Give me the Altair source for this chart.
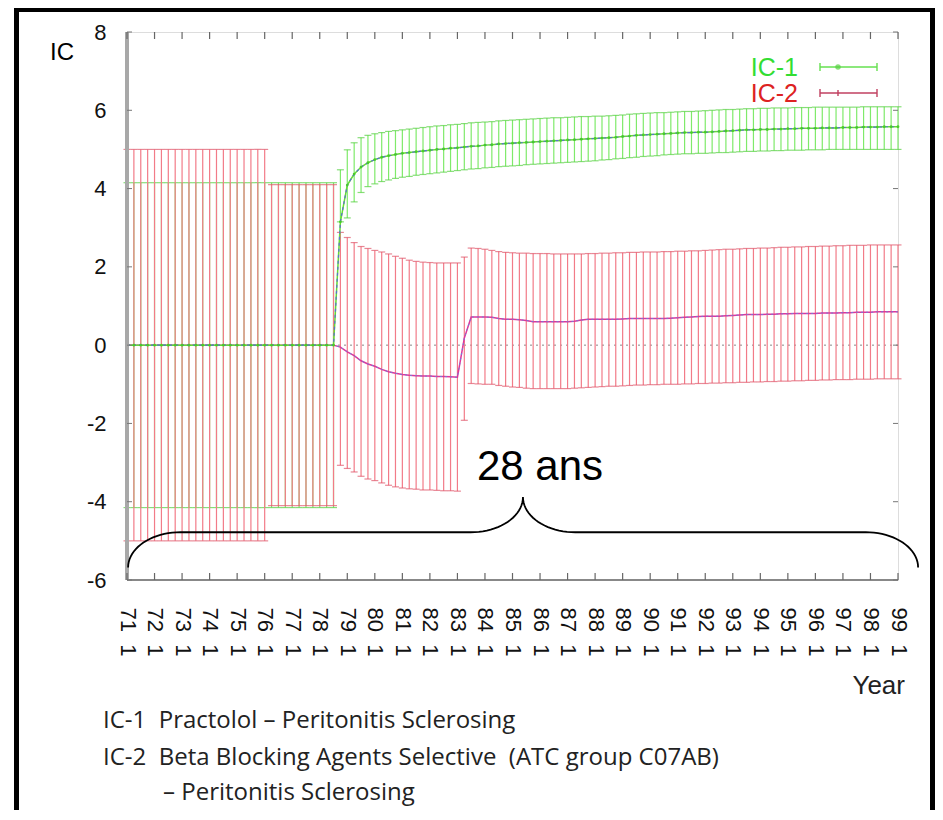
import altair as alt
import pandas as pd
import math

# ---------------- data ----------------
YEARS = list(range(71, 100))          # x tick years (labels "71 1" ... "99 1")
Y_TICKS = [-6, -4, -2, 0, 2, 4, 6, 8]

# quarterly points 71Q1 .. 99Q1 (113 points)
IC1_MID = [0.0] * 31 + [
    3.15, 4.09, 4.37, 4.55, 4.66, 4.74, 4.8, 4.84, 4.87, 4.9,
    4.92, 4.94, 4.96, 4.98, 5.0, 5.01, 5.03, 5.04, 5.06, 5.08,
    5.09, 5.11, 5.12, 5.14, 5.15, 5.16, 5.17, 5.18, 5.19, 5.2,
    5.21, 5.22, 5.23, 5.24, 5.25, 5.26, 5.27, 5.28, 5.29, 5.3,
    5.31, 5.33, 5.34, 5.36, 5.37, 5.38, 5.39, 5.4, 5.41, 5.42,
    5.43, 5.43, 5.44, 5.44, 5.45, 5.46, 5.47, 5.48, 5.49, 5.5,
    5.5, 5.51, 5.51, 5.52, 5.52, 5.53, 5.53, 5.54, 5.54, 5.54,
    5.55, 5.55, 5.55, 5.56, 5.56, 5.56, 5.57, 5.57, 5.57, 5.58,
    5.58, 5.58]
IC1_LO = [-4.15] * 31 + [
    3.15, 3.25, 3.66, 3.9, 4.05, 4.12, 4.18, 4.22, 4.26, 4.29,
    4.31, 4.34, 4.36, 4.38, 4.4, 4.42, 4.44, 4.46, 4.48, 4.5,
    4.51, 4.53, 4.54, 4.56, 4.57, 4.58, 4.59, 4.61, 4.62, 4.63,
    4.64, 4.65, 4.66, 4.67, 4.68, 4.69, 4.7, 4.71, 4.73, 4.74,
    4.76, 4.77, 4.79, 4.8, 4.82, 4.83, 4.84, 4.86, 4.87, 4.88,
    4.89, 4.89, 4.9, 4.9, 4.91, 4.92, 4.92, 4.93, 4.94, 4.95,
    4.95, 4.96, 4.96, 4.97, 4.97, 4.98, 4.98, 4.98, 4.99, 4.99,
    4.99, 5.0, 5.0, 5.0, 5.0, 5.0, 5.0, 5.0, 5.0, 5.0,
    5.0, 5.0]
IC1_HI = [4.15] * 31 + [
    4.48, 4.99, 5.17, 5.3, 5.36, 5.4, 5.43, 5.46, 5.48, 5.5,
    5.52, 5.54, 5.56, 5.58, 5.6, 5.61, 5.63, 5.64, 5.66, 5.68,
    5.69, 5.7, 5.71, 5.73, 5.74, 5.75, 5.76, 5.77, 5.78, 5.79,
    5.8, 5.81, 5.81, 5.82, 5.83, 5.84, 5.84, 5.85, 5.85, 5.86,
    5.87, 5.88, 5.9, 5.91, 5.92, 5.93, 5.94, 5.94, 5.95, 5.96,
    5.97, 5.97, 5.98, 5.99, 6.0, 6.01, 6.02, 6.02, 6.03, 6.04,
    6.04, 6.05, 6.05, 6.06, 6.06, 6.06, 6.07, 6.07, 6.07, 6.08,
    6.08, 6.08, 6.08, 6.08, 6.08, 6.08, 6.09, 6.09, 6.09, 6.09,
    6.09, 6.09]

IC2_MID = [0.0] * 31 + [
    -0.05, -0.17, -0.27, -0.4, -0.48, -0.54, -0.62, -0.68, -0.72, -0.75,
    -0.77, -0.78, -0.79, -0.79, -0.8, -0.8, -0.81, -0.82] + [0.18] + [
    0.72, 0.72, 0.72, 0.71, 0.68, 0.66, 0.66, 0.65, 0.63, 0.6,
    0.6, 0.6, 0.6, 0.6, 0.6, 0.61, 0.64, 0.66, 0.66, 0.66,
    0.66, 0.66, 0.67, 0.68, 0.68, 0.68, 0.68, 0.68, 0.68, 0.69,
    0.7, 0.71, 0.72, 0.73, 0.74, 0.74, 0.74, 0.75, 0.76, 0.77,
    0.78, 0.78, 0.78, 0.79, 0.79, 0.8, 0.8, 0.81, 0.81, 0.81,
    0.81, 0.82, 0.82, 0.82, 0.83, 0.83, 0.84, 0.84, 0.84, 0.85,
    0.85, 0.85, 0.85]
IC2_LO = [-5.0] * 21 + [-4.1] * 10 + [
    -3.07, -3.15, -3.24, -3.35, -3.42, -3.46, -3.52, -3.58, -3.62, -3.65,
    -3.67, -3.68, -3.7, -3.7, -3.71, -3.72, -3.72, -3.73] + [-1.92] + [
    -0.98, -0.99, -1.0, -1.0, -1.03, -1.05, -1.07, -1.08, -1.1, -1.11,
    -1.11, -1.11, -1.11, -1.11, -1.11, -1.1, -1.09, -1.08, -1.07, -1.06,
    -1.05, -1.05, -1.04, -1.03, -1.02, -1.02, -1.01, -1.01, -1.0, -1.0,
    -1.0, -0.99, -0.99, -0.98, -0.98, -0.97, -0.97, -0.96, -0.96, -0.95,
    -0.95, -0.94, -0.94, -0.93, -0.93, -0.92, -0.92, -0.91, -0.91, -0.9,
    -0.9, -0.89, -0.89, -0.88, -0.88, -0.88, -0.87, -0.87, -0.87, -0.86,
    -0.86, -0.86, -0.86]
IC2_HI = [5.0] * 21 + [4.1] * 10 + [
    2.88, 2.75, 2.62, 2.52, 2.47, 2.42, 2.38, 2.33, 2.27, 2.22,
    2.17, 2.14, 2.12, 2.11, 2.1, 2.1, 2.1, 2.1] + [2.25] + [
    2.48, 2.47, 2.45, 2.42, 2.39, 2.37, 2.36, 2.35, 2.35, 2.34,
    2.34, 2.34, 2.33, 2.33, 2.33, 2.33, 2.33, 2.34, 2.34, 2.35,
    2.35, 2.36, 2.36, 2.37, 2.37, 2.38, 2.38, 2.38, 2.39, 2.39,
    2.4, 2.4, 2.41, 2.41, 2.42, 2.43, 2.44, 2.45, 2.45, 2.46,
    2.47, 2.47, 2.48, 2.48, 2.49, 2.5, 2.5, 2.51, 2.51, 2.52,
    2.52, 2.53, 2.53, 2.54, 2.54, 2.55, 2.55, 2.55, 2.56, 2.56,
    2.56, 2.56, 2.56]

NB = "\u00a0"
FOOTER = ["IC-1" + NB * 2 + "Practolol \u2013 Peritonitis Sclerosing",
          "IC-2" + NB * 2 + "Beta Blocking Agents Selective" + NB * 2 + "(ATC group C07AB)",
          "\u2013 Peritonitis Sclerosing"]

# brace annotation anchors (data units)
BR_X = [71.04, 85.38, 99.73]      # left end, tip, right end
BR_Y = [-5.68, -4.78, -3.88]      # ends, flat part, tip
BR_RX, BR_RY = 1.9, 0.9

# ---------------- build tables ----------------
n = len(IC1_MID)
xq = [71 + i / 4 for i in range(n)]
df = pd.DataFrame({"x": xq, "m1": IC1_MID, "lo1": IC1_LO, "hi1": IC1_HI,
                   "m2": IC2_MID, "lo2": IC2_LO, "hi2": IC2_HI})

def arc(cx, cy, fx, fy):
    return [(cx + fx(t), cy + fy(t)) for t in [k * math.pi / 40 for k in range(21)]]

pts = []
pts += arc(BR_X[0] + BR_RX, BR_Y[0], lambda t: -BR_RX * math.cos(t), lambda t: BR_RY * math.sin(t))
pts += arc(BR_X[1] - BR_RX, BR_Y[2], lambda t: BR_RX * math.sin(t), lambda t: -BR_RY * math.cos(t))
pts += arc(BR_X[1] + BR_RX, BR_Y[2], lambda t: -BR_RX * math.cos(t), lambda t: -BR_RY * math.sin(t))
pts += arc(BR_X[2] - BR_RX, BR_Y[0], lambda t: BR_RX * math.sin(t), lambda t: BR_RY * math.cos(t))
brace = pd.DataFrame({"bx": [p[0] for p in pts], "by": [p[1] for p in pts],
                      "k": list(range(len(pts)))})

W, H = 771, 548
FONT = "Liberation Sans"

xscale = alt.Scale(domain=[71, 99], nice=False, zero=False)
yscale = alt.Scale(domain=[-6, 8], nice=False, zero=False)

AXIS_X = alt.Axis(
    values=YEARS, labelExpr="format(datum.value, 'd') + '" + NB * 2 + "1'",
    labelAngle=90, labelAlign="left", labelBaseline="middle",
    labelFontSize=22, labelFont=FONT, labelColor="#111", labelPadding=27,
    ticks=False, domain=False, grid=False, title=None, labelOverlap=False,
    labelFlush=False, labelBound=False)
AXIS_Y = alt.Axis(
    values=Y_TICKS, labelExpr="'' + datum.value", labelFontSize=22, labelFont=FONT,
    labelColor="#111", labelPadding=21, ticks=False, domain=False, grid=False,
    title=None, labelOverlap=False, labelFlush=False)

def Xn(f):
    return alt.X(f, scale=xscale, axis=AXIS_X)

def Yn(f):
    return alt.Y(f, scale=yscale, axis=AXIS_Y)

base = alt.Chart(df)

RED_BAR = "#f27b88"
RED_CAP = "#e0566a"
GREEN_BAR = "#7fea6a"
GREEN_CAP = "#55d040"

zero = alt.Chart(pd.DataFrame({"z": [0]})).mark_rule(
    color="#888", strokeDash=[2, 4], strokeWidth=1).encode(y=Yn("z:Q"))

g_bars = base.mark_rule(color=GREEN_BAR, strokeWidth=1.2).encode(
    x=Xn("x:Q"), y=Yn("lo1:Q"), y2="hi1:Q")
g_cap_lo = base.mark_tick(orient="horizontal", size=7, thickness=1.2, color=GREEN_CAP).encode(
    x=Xn("x:Q"), y=Yn("lo1:Q"))
g_cap_hi = base.mark_tick(orient="horizontal", size=7, thickness=1.2, color=GREEN_CAP).encode(
    x=Xn("x:Q"), y=Yn("hi1:Q"))

r_bars = base.mark_rule(color=RED_BAR, strokeWidth=1.2).encode(
    x=Xn("x:Q"), y=Yn("lo2:Q"), y2="hi2:Q")
r_cap_lo = base.mark_tick(orient="horizontal", size=7, thickness=1.2, color=RED_CAP).encode(
    x=Xn("x:Q"), y=Yn("lo2:Q"))
r_cap_hi = base.mark_tick(orient="horizontal", size=7, thickness=1.2, color=RED_CAP).encode(
    x=Xn("x:Q"), y=Yn("hi2:Q"))

r_line = base.mark_line(color="#e0359a", strokeWidth=1.5).encode(x=Xn("x:Q"), y=Yn("m2:Q"))
r_dash = base.mark_line(color="#7080d8", strokeWidth=1, strokeDash=[2, 3]).encode(
    x=Xn("x:Q"), y=Yn("m2:Q"))
g_line = base.mark_line(color="#66dd33", strokeWidth=1.5).encode(x=Xn("x:Q"), y=Yn("m1:Q"))
g_dash = base.mark_line(color="#5a6fd0", strokeWidth=1.2, strokeDash=[3, 3]).encode(
    x=Xn("x:Q"), y=Yn("m1:Q"))
g_pts = base.mark_point(filled=True, size=8, color="#44cc22", opacity=0.9).encode(
    x=Xn("x:Q"), y=Yn("m1:Q"))

# inside ticks (gnuplot style)
yt = pd.DataFrame({"t": Y_TICKS})
xt = pd.DataFrame({"t": YEARS})
tick_l = alt.Chart(yt).mark_rule(color="#777", strokeWidth=1).encode(
    y=Yn("t:Q"), x=alt.value(0), x2=alt.value(5))
tick_r = alt.Chart(yt).mark_rule(color="#777", strokeWidth=1).encode(
    y=Yn("t:Q"), x=alt.value(W), x2=alt.value(W - 5))
tick_t = alt.Chart(xt).mark_rule(color="#666", strokeWidth=1.2).encode(
    x=Xn("t:Q"), y=alt.value(0), y2=alt.value(7))
tick_b = alt.Chart(xt).mark_rule(color="#666", strokeWidth=1.2).encode(
    x=Xn("t:Q"), y=alt.value(H), y2=alt.value(H - 7))

left_axis = alt.Chart(yt).mark_rule(color="#a8a8a8", strokeWidth=3.5).encode(
    x=alt.value(0), y=alt.value(0), y2=alt.value(H))
bottom_axis = alt.Chart(yt).mark_rule(color="#888", strokeWidth=2).encode(
    x=alt.value(0), x2=alt.value(W), y=alt.value(H))

brace_line = alt.Chart(brace).mark_line(color="black", strokeWidth=1.8).encode(
    x=Xn("bx:Q"), y=Yn("by:Q"), order="k:Q")

def txt(s, x, y, size, color="black", align="left", baseline="middle", font=FONT, weight="normal"):
    return alt.Chart(pd.DataFrame({"s": [s]})).mark_text(
        align=align, baseline=baseline, fontSize=size, font=font, color=color,
        fontWeight=weight).encode(text="s:N", x=alt.value(x), y=alt.value(y))

texts = [
    txt("IC", -65, 21, 24, align="center"),
    txt("Year", 778, 654, 26, align="right", color="#222"),
    txt("IC-1", 671, 36, 25, color="#33dd33", align="right"),
    txt("IC-2", 671, 62, 25, color="#dd2222", align="right"),
    txt("28 ans", 413, 448, 42, align="center", baseline="alphabetic"),
    txt(FOOTER[0], -24, 689, 24, color="#222", font="Open Sans"),
    txt(FOOTER[1], -24, 726, 24, color="#222", font="Open Sans"),
    txt(FOOTER[2], 36, 761, 24, color="#222", font="Open Sans"),
]

# legend samples
leg = pd.DataFrame({"k": [0]})
leg_layers = []
for yy, col in [(35, "#66e050"), (61, "#c04060")]:
    leg_layers.append(alt.Chart(leg).mark_rule(color=col, strokeWidth=1.4).encode(
        x=alt.value(693), x2=alt.value(750), y=alt.value(yy)))
    for xx in (693, 750):
        leg_layers.append(alt.Chart(leg).mark_rule(color=col, strokeWidth=1.4).encode(
            x=alt.value(xx), y=alt.value(yy - 4), y2=alt.value(yy + 4)))
leg_layers.append(alt.Chart(leg).mark_point(filled=True, size=30, color="#55d040").encode(
    x=alt.value(711), y=alt.value(35)))
leg_layers.append(alt.Chart(leg).mark_rule(color="#c04060", strokeWidth=1.4).encode(
    x=alt.value(711), y=alt.value(58), y2=alt.value(64)))

frame = alt.Chart(leg).mark_rect(fillOpacity=0, stroke="black", strokeWidth=5).encode(
    x=alt.value(-110.5), x2=alt.value(805.5), y=alt.value(-22.5), y2=alt.value(900))

chart = alt.layer(
    zero, g_bars, g_cap_lo, g_cap_hi, r_bars, r_cap_lo, r_cap_hi,
    r_line, r_dash, g_line, g_dash, g_pts,
    left_axis, bottom_axis, tick_l, tick_r, tick_t, tick_b,
    brace_line, *texts, *leg_layers, frame
).properties(
    width=W, height=H,
    autosize=alt.AutoSizeParams(type="none"),
    padding={"left": 119, "top": 24, "right": 37, "bottom": 230},
).configure_view(stroke="#9a9a9a", strokeWidth=1.5).configure_axis(
    labelOverlap=False).configure(background="white")

chart.save("out.html", embed_options={"renderer": "svg", "actions": False})
